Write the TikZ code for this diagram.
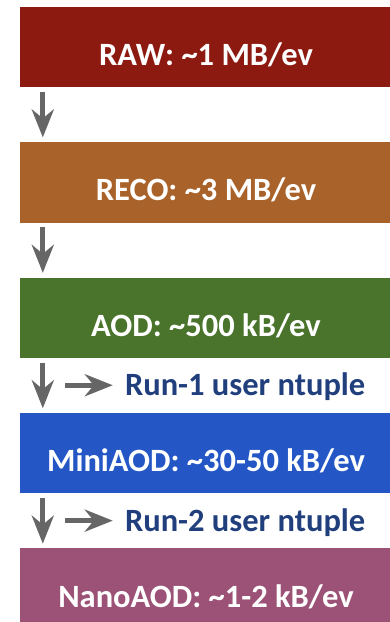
\documentclass[tikz,border=0pt]{standalone}
\usepackage{fontspec}
\setmainfont{Carlito}
\usepackage{xcolor}
\usepackage{tikz}
\usetikzlibrary{arrows.meta,positioning}

\definecolor{rawred}{HTML}{8C1A11}
\definecolor{recobrown}{HTML}{A8622A}
\definecolor{aodgreen}{HTML}{4A732B}
\definecolor{miniblue}{HTML}{2457C5}
\definecolor{nanoplum}{HTML}{9C5276}
\definecolor{ntupleblue}{HTML}{203F7C}
\definecolor{arrowgray}{HTML}{666666}

\begin{document}
\begin{tikzpicture}[x=1pt,y=1pt,line join=miter,
  >={Stealth[length=28pt,width=22pt,inset=9pt]},
  tier/.style={rectangle,inner sep=0pt,minimum width=372pt,minimum height=80.5pt,
    text=white,font=\fontsize{32.5}{36}\selectfont\bfseries,text height=37pt,text depth=0pt},
  ntuple/.style={inner sep=0pt,text=ntupleblue,font=\fontsize{32.5}{36}\selectfont\bfseries,
    text height=21pt,text depth=0pt},
  flow/.style={->,draw=arrowgray,fill=arrowgray,line width=5pt}]
\clip (0,0) rectangle (390,622);
% data tiers
\node[tier,fill=rawred] (raw) at (206,575) {RAW: \textasciitilde1 MB/ev};
\node[tier,fill=recobrown,below=54.5pt of raw] (reco) {RECO: \textasciitilde3 MB/ev};
\node[tier,fill=aodgreen,below=54.5pt of reco] (aod) {AOD: \textasciitilde500 kB/ev};
\node[tier,fill=miniblue,below=54.5pt of aod] (mini) {MiniAOD: \textasciitilde30-50 kB/ev};
\node[tier,fill=nanoplum,below=54.5pt of mini] (nano) {NanoAOD: \textasciitilde1-2 kB/ev};
% reduction steps
\draw[flow,shorten <=4.5pt,shorten >=4.5pt] ([xshift=23pt]raw.south west) -- ([xshift=23pt]reco.north west);
\draw[flow,shorten <=4.5pt,shorten >=4.5pt] ([xshift=23pt]reco.south west) -- ([xshift=23pt]aod.north west);
\draw[flow,shorten <=4.5pt,shorten >=4.5pt] ([xshift=23pt]aod.south west) -- ([xshift=23pt]mini.north west);
\draw[flow,shorten <=4.5pt,shorten >=4.5pt] ([xshift=23pt]mini.south west) -- ([xshift=23pt]nano.north west);
% user ntuples
\coordinate (split1) at ([xshift=45pt,yshift=-27pt]aod.south west);
\coordinate (split2) at ([xshift=45pt,yshift=-27pt]mini.south west);
\node[ntuple,right=60pt of split1] (run1) {Run-1 user ntuple};
\node[ntuple,right=60pt of split2] (run2) {Run-2 user ntuple};
\draw[flow,shorten >=12pt] (split1) -- (run1);
\draw[flow,shorten >=12pt] (split2) -- (run2);
\end{tikzpicture}
\end{document}
